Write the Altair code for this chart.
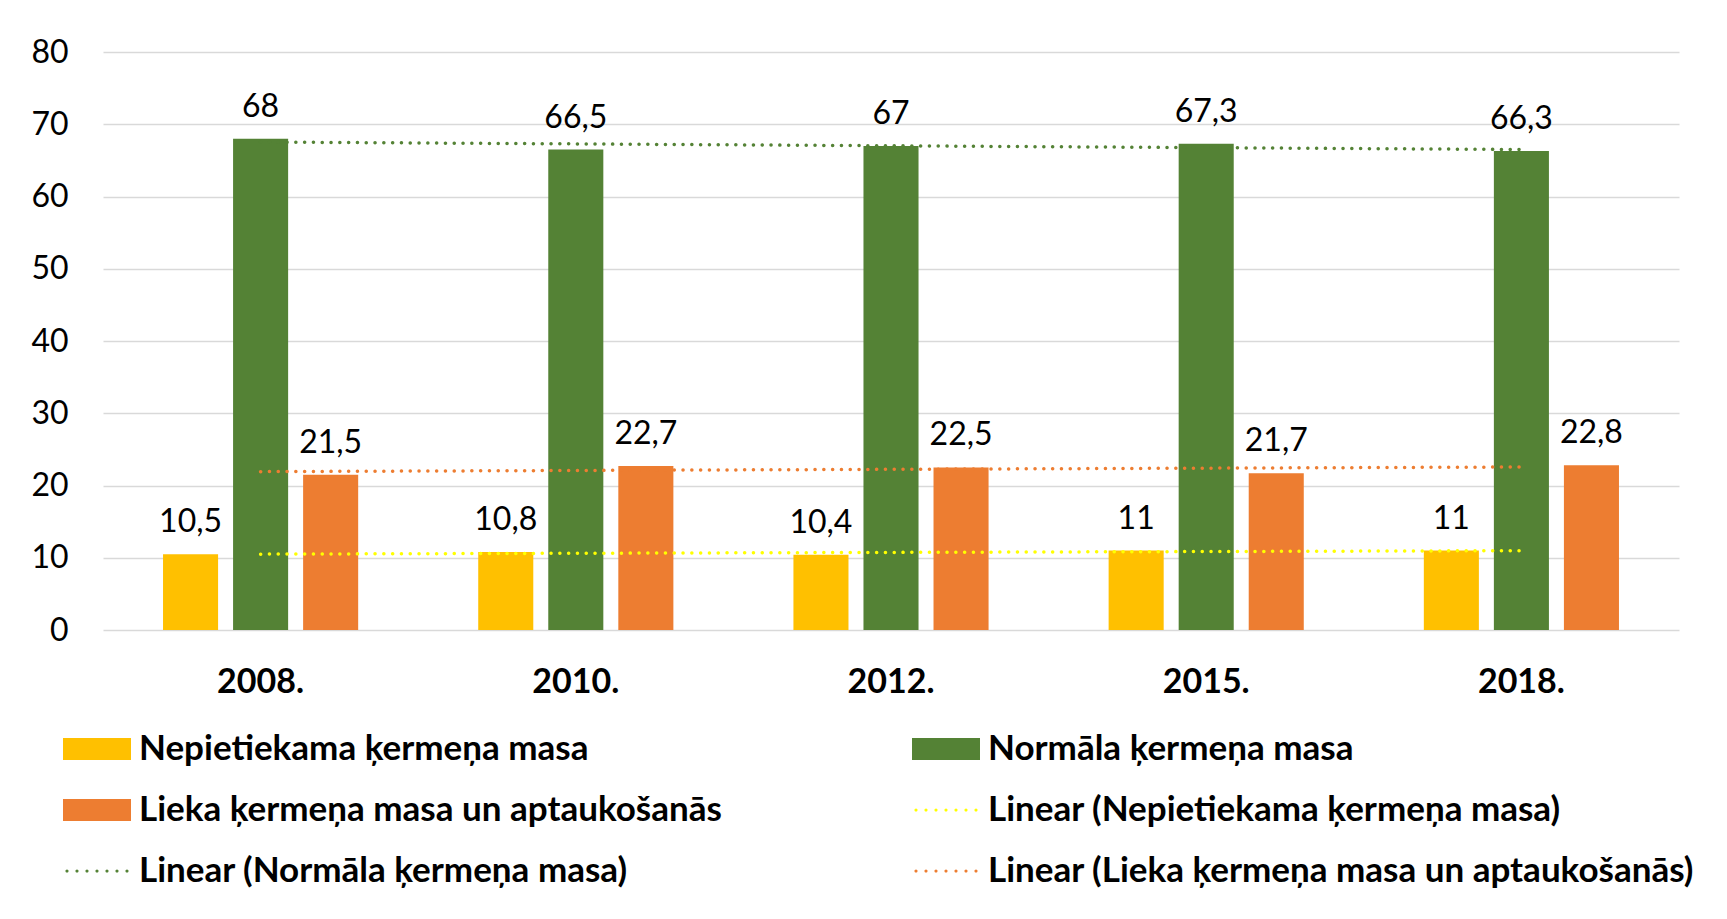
import altair as alt
import pandas as pd

years = ["2008.", "2010.", "2012.", "2015.", "2018."]
series = ["Nepietiekama ķermeņa masa", "Normāla ķermeņa masa", "Lieka ķermeņa masa un aptaukošanās"]
under = [10.5, 10.8, 10.4, 11, 11]
normal = [68, 66.5, 67, 67.3, 66.3]
over = [21.5, 22.7, 22.5, 21.7, 22.8]
bar_colors = ["#FFC000", "#548235", "#ED7D31"]
trend_colors = ["#FFFF00", "#548235", "#ED7D31"]

rows = []
for s, vals in zip(series, [under, normal, over]):
    for i, (yr, v) in enumerate(zip(years, vals)):
        rows.append({"year": yr, "idx": i + 1, "series": s, "label": s, "value": v})
df = pd.DataFrame(rows)

trend_labels = ["Linear (" + s + ")" for s in series]

# legend symbol shapes: wide rectangle for bars, dotted line for trends
rect_path = "M-1.7,-0.55H1.7V0.55H-1.7Z"
r = 0.08
dots = []
for k in range(7):
    cx = -1.5 + 0.5 * k
    dots.append(f"M{cx - r:.3f},0a{r},{r} 0 1,0 {2 * r},0a{r},{r} 0 1,0 {-2 * r},0")
dot_path = "".join(dots)

# legend is filled column by column (2 columns x 3 rows)
legend_domain = [series[0], series[2], trend_labels[1], series[1], trend_labels[0], trend_labels[2]]
legend_colors = [bar_colors[0], bar_colors[2], trend_colors[1], bar_colors[1], trend_colors[0], trend_colors[2]]
legend_shapes = [rect_path, rect_path, dot_path, rect_path, dot_path, dot_path]

FONT = "Lato"
color_scale = alt.Scale(domain=legend_domain, range=legend_colors)
shape_scale = alt.Scale(domain=legend_domain, range=legend_shapes)
y_scale = alt.Scale(domain=[0, 80])

x_enc = alt.X("year:N", sort=years, title=None,
              scale=alt.Scale(paddingInner=0, paddingOuter=0),
              axis=alt.Axis(labelAngle=0, labelFontWeight="bold", labelFontSize=34,
                            labelFont=FONT, labelColor="black", labelPadding=35,
                            ticks=False, domain=False))
xoff_enc = alt.XOffset("series:N", sort=series,
                       scale=alt.Scale(paddingInner=0.214, paddingOuter=0.857))
y_enc = alt.Y("value:Q", scale=y_scale, title=None,
              axis=alt.Axis(values=list(range(0, 81, 10)), labelFontSize=32, labelFont=FONT,
                            labelColor="black", labelPadding=35, ticks=False, domain=False,
                            gridColor="#D9D9D9", gridWidth=1.5))

base = alt.Chart(df)

legend = alt.Legend(title=None, orient="none", legendX=-26, legendY=677, columns=2,
                    columnPadding=190, rowPadding=23, symbolSize=1600,
                    symbolStrokeWidth=0, symbolOpacity=1, labelFont=FONT,
                    labelFontWeight="bold", labelFontSize=35, labelColor="black",
                    labelLimit=0, labelOffset=22)

legend_pts = base.mark_point(filled=True, opacity=0, size=1).encode(
    x=x_enc, xOffset=xoff_enc, y=y_enc,
    color=alt.Color("label:N", scale=color_scale, legend=legend),
    shape=alt.Shape("label:N", scale=shape_scale, legend=legend),
)

bars = base.mark_bar().encode(
    x=x_enc, xOffset=xoff_enc, y=y_enc,
    color=alt.Color("label:N", scale=color_scale, legend=None),
)

texts = base.mark_text(baseline="alphabetic", dy=-22, fontSize=32, font=FONT, color="black").encode(
    x=x_enc, xOffset=xoff_enc, y=y_enc,
    text="txt:N",
).transform_calculate(txt="replace(toString(datum.value), '.', ',')")

trend = base.transform_regression("idx", "value", groupby=["series"], method="linear").transform_calculate(
    label='"Linear (" + datum.series + ")"'
).mark_line(strokeDash=[0.1, 8.7], strokeCap="round", strokeWidth=3.5).encode(
    x=alt.X("idx:Q", scale=alt.Scale(domain=[0.5, 5.5]), axis=None),
    y=alt.Y("value:Q", scale=y_scale),
    color=alt.Color("label:N", scale=color_scale, legend=None),
)

inner = alt.layer(legend_pts, bars, texts)
chart = alt.layer(inner, trend).resolve_scale(x="independent").properties(
    width=1576, height=578,
    padding={"left": 95, "top": 44, "right": 30, "bottom": 262},
    autosize=alt.AutoSizeParams(type="none"),
    background="white",
).configure_view(stroke=None)

chart.save("out.html", embed_options={"renderer": "svg", "actions": False})
